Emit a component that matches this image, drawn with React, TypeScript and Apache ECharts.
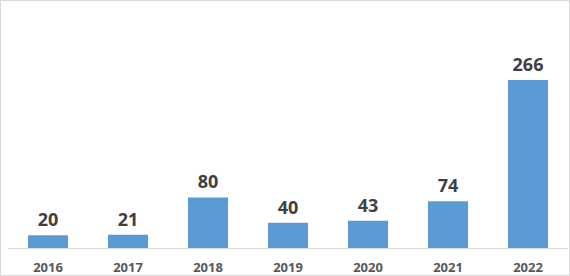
import React, { useEffect, useRef } from "react";
import * as echarts from "echarts";

const years = ["2016", "2017", "2018", "2019", "2020", "2021", "2022"];
const counts = [20, 21, 80, 40, 43, 74, 266];

export default function App() {
  const ref = useRef<HTMLDivElement>(null);
  useEffect(() => {
    const chart = echarts.init(ref.current!, null, { renderer: "svg" });
    chart.setOption({
      animation: false,
      grid: { left: 8, right: 2, top: 58.5, bottom: 28, containLabel: false },
      xAxis: {
        type: "category",
        data: years,
        axisLine: { lineStyle: { color: "#D9D9D9", width: 1 } },
        axisTick: { show: false },
        axisLabel: {
          color: "#595959",
          fontWeight: "bold",
          fontSize: 13,
          fontFamily: "Open Sans, Liberation Sans, sans-serif",
          margin: 12,
        },
      },
      yAxis: {
        type: "value",
        min: 0,
        max: 300,
        show: false,
        splitLine: { show: false },
      },
      series: [
        {
          type: "bar",
          data: counts,
          barWidth: 40,
          itemStyle: { color: "#5B9BD5" },
          label: {
            show: true,
            position: "top",
            distance: 7,
            color: "#404040",
            fontWeight: "bold",
            fontSize: 18,
            fontFamily: "Open Sans, Liberation Sans, sans-serif",
          },
        },
      ],
    });
    return () => chart.dispose();
  }, []);
  return (
    <div style={{ position: "fixed", left: 0, top: 0, width: 570, height: 276, background: "#fff" }}>
      <div ref={ref} style={{ position: "absolute", left: 0, top: 0, width: 570, height: 276 }} />
      <div
        style={{
          position: "absolute",
          left: 0,
          top: 0,
          width: 570,
          height: 276,
          boxSizing: "border-box",
          border: "1px solid #D9D9D9",
          pointerEvents: "none",
        }}
      />
    </div>
  );
}
